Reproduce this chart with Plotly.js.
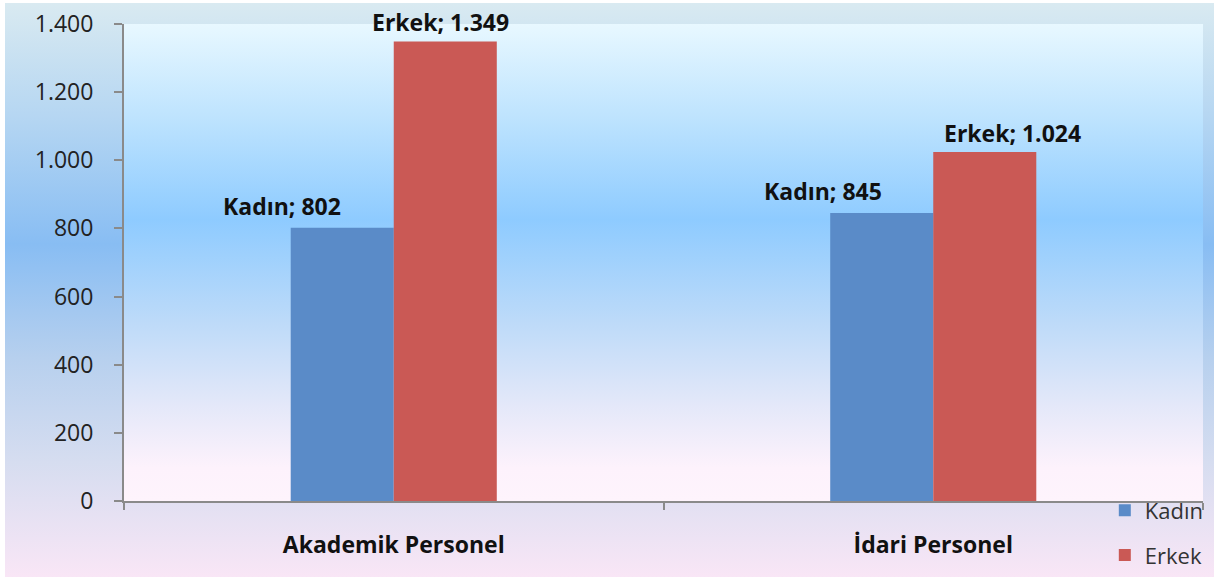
<!DOCTYPE html>
<html>
<head>
<meta charset="utf-8">
<script src="https://cdn.plot.ly/plotly-3.0.1.min.js"></script>
<style>
  body { margin: 0; background: #ffffff; }
  #wrap { position: relative; width: 1214px; height: 577px; }
  #bg {
    position: absolute; left: 5px; top: 3px; right: 0; bottom: 0;
    background: linear-gradient(to bottom, #d9eaf1 0%, #b5d6f2 20%, #88bdf3 42%, #b7d0ee 62%, #d6ddf0 80%, #f9e6f6 100%);
  }
  #chart { position: absolute; left: 0; top: 0; width: 1214px; height: 577px; }
</style>
</head>
<body>
<div id="wrap">
  <div id="bg"></div>
  <div id="chart"></div>
</div>
<script>
// values
const categories = ['Akademik Personel', 'İdari Personel'];
const kadin = [802, 845];
const erkek = [1349, 1024];
const seriesNames = ['Kadın', 'Erkek'];
const yTicks = [0, 200, 400, 600, 800, 1000, 1200, 1400];

// label offsets from the category centre (style only)
const kadinShift = [-112, -110];
const erkekShift = [47, 79];

const colors = ['#5a8bc8', '#ca5955'];
const fontFamily = '"Open Sans", Lato, sans-serif';
const labelFont = { family: fontFamily, size: 23, color: '#111', weight: 700 };

const plotGradient = 'data:image/svg+xml;utf8,' + encodeURIComponent(
  '<svg xmlns="http://www.w3.org/2000/svg" width="100" height="100" preserveAspectRatio="none">' +
  '<defs><linearGradient id="g" x1="0" y1="0" x2="0" y2="1">' +
  '<stop offset="0" stop-color="#e8f8ff"/>' +
  '<stop offset="0.2" stop-color="#bde3fe"/>' +
  '<stop offset="0.41" stop-color="#8ecbff"/>' +
  '<stop offset="0.62" stop-color="#bcdaf9"/>' +
  '<stop offset="0.8" stop-color="#e4e8f9"/>' +
  '<stop offset="0.93" stop-color="#fdf2fc"/>' +
  '<stop offset="1" stop-color="#fef4fc"/>' +
  '</linearGradient></defs><rect width="100" height="100" fill="url(#g)"/></svg>');

function fmt(v) {
  return v.toString().replace(/\B(?=(\d{3})+(?!\d))/g, '.');
}

const traces = [
  { type: 'bar', name: seriesNames[0], x: categories, y: kadin, legendgroup: 'k',
    marker: { color: colors[0] }, hoverinfo: 'none' },
  { type: 'bar', name: seriesNames[1], x: categories, y: erkek, legendgroup: 'e',
    marker: { color: colors[1] }, hoverinfo: 'none' }
];

const annotations = [];
categories.forEach((c, i) => {
  annotations.push({ x: c, y: kadin[i], xref: 'x', yref: 'y', text: seriesNames[0] + '; ' + fmt(kadin[i]),
    showarrow: false, yanchor: 'bottom', xshift: kadinShift[i], yshift: 4, font: labelFont });
  annotations.push({ x: c, y: erkek[i], xref: 'x', yref: 'y', text: seriesNames[1] + '; ' + fmt(erkek[i]),
    showarrow: false, yanchor: 'bottom', xshift: erkekShift[i], yshift: 1, font: labelFont });
});

const layout = {
  width: 1214,
  height: 577,
  margin: { l: 124, r: 11, t: 24, b: 76, autoexpand: false },
  paper_bgcolor: 'rgba(0,0,0,0)',
  plot_bgcolor: 'rgba(0,0,0,0)',
  separators: ',.',
  barmode: 'group',
  bargap: 0.618,
  bargroupgap: 0,
  font: { family: fontFamily, color: '#222' },
  xaxis: {
    type: 'category',
    showline: true, linecolor: '#8a8a8a', linewidth: 2,
    ticks: 'outside', tickson: 'boundaries', ticklen: 7, tickcolor: '#8a8a8a', tickwidth: 2,
    tickfont: { size: 23, color: '#111', weight: 700 },
    ticklabelstandoff: 22,
    showgrid: false, zeroline: false, fixedrange: true
  },
  yaxis: {
    range: [0, 1400],
    tickvals: yTicks,
    ticktext: yTicks.map(fmt),
    showline: true, linecolor: '#8a8a8a', linewidth: 2,
    ticks: 'outside', ticklen: 8, tickcolor: '#8a8a8a', tickwidth: 2,
    tickfont: { size: 23, color: '#222' },
    ticklabelstandoff: 16,
    showgrid: false, zeroline: false, fixedrange: true
  },
  showlegend: true,
  legend: {
    x: 0.909, xanchor: 'left', y: 0.024, yanchor: 'top',
    bgcolor: 'rgba(0,0,0,0)',
    font: { size: 22, color: '#333' },
    traceorder: 'grouped', tracegroupgap: 13
  },
  images: [{
    source: plotGradient, xref: 'paper', yref: 'paper',
    x: 0, y: 1, sizex: 1, sizey: 1, xanchor: 'left', yanchor: 'top',
    sizing: 'stretch', layer: 'below'
  }],
  annotations: annotations
};

Plotly.newPlot('chart', traces, layout, { displayModeBar: false, staticPlot: true });
</script>
</body>
</html>
